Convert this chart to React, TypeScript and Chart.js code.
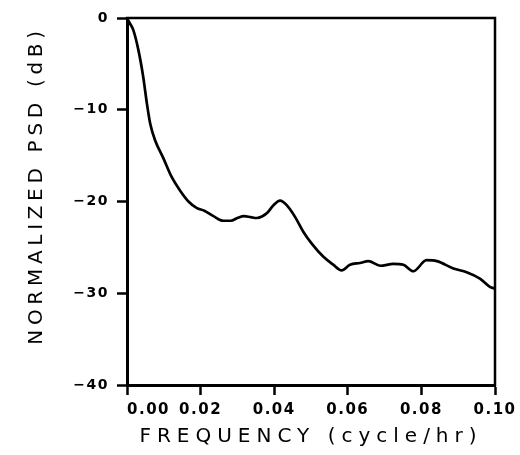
import React, { useEffect, useRef } from "react";
import { Chart, registerables } from "chart.js";

Chart.register(...registerables);

// Frequency (cycle/hr)
const freq: number[] = [
  0.0, 0.0008, 0.0017, 0.0031, 0.0044, 0.0054, 0.0063, 0.0076, 0.0099,
  0.0121, 0.0144, 0.0167, 0.0189, 0.021, 0.0235, 0.0262, 0.0282, 0.03, 0.0318,
  0.0336, 0.0352, 0.0368, 0.0382, 0.0398, 0.0416, 0.0434, 0.0457, 0.0479, 0.0502,
  0.0533, 0.0561, 0.0583, 0.0606, 0.0633, 0.0656, 0.0688, 0.0724, 0.0751, 0.0778,
  0.0814, 0.0842, 0.0887, 0.0923, 0.0959, 0.0986, 0.1,
];
// Normalized PSD (dB)
const psd: number[] = [
  0.0, -0.6, -1.3, -3.5, -6.4, -9.3, -11.5, -13.3, -15.3,
  -17.3, -18.8, -20.0, -20.7, -21.0, -21.6, -22.1, -22.1, -21.8, -21.6,
  -21.7, -21.8, -21.6, -21.2, -20.4, -19.9, -20.4, -21.7, -23.3, -24.6,
  -26.0, -26.9, -27.5, -26.9, -26.7, -26.5, -27.0, -26.8, -26.9, -27.6,
  -26.4, -26.5, -27.3, -27.7, -28.4, -29.3, -29.5,
];

const xTicks: number[] = [0, 0.02, 0.04, 0.06, 0.08, 0.1];
const xTickLabels: string[] = ["0.00", "0.02", "0.04", "0.06", "0.08", "0.10"];
const yTicks: number[] = [0, -10, -20, -30, -40];
const yTickLabels: string[] = ["0", "\u221210", "\u221220", "\u221230", "\u221240"];

const xTitle = "FREQUENCY (cycle/hr)";
const yTitle = "NORMALIZED PSD (dB)";

const FONT = "'DejaVu Sans', sans-serif";

const framePlugin = {
  id: "frame",
  beforeDraw(chart: any) {
    chart.ctx.letterSpacing = "1.5px";
  },
  afterLayout(chart: any) {
    const patchTitle = (scale: any, spacing: string, dy: number) => {
      if (!scale || scale.__titlePatched) return;
      scale.__titlePatched = true;
      const orig = scale.drawTitle.bind(scale);
      scale.drawTitle = () => {
        const ctx = scale.ctx;
        const prev = ctx.letterSpacing;
        ctx.save();
        ctx.letterSpacing = spacing;
        ctx.translate(0, dy);
        orig();
        ctx.restore();
        ctx.letterSpacing = prev;
      };
    };
    patchTitle(chart.scales.x, "6px", 0);
    patchTitle(chart.scales.y, "4.7px", -16);
    const xs = chart.scales.x;
    if (xs && !xs.__labelPatched) {
      xs.__labelPatched = true;
      const origGL = xs.getLabelItems.bind(xs);
      xs.getLabelItems = (ca: any) => {
        const items = origGL(ca);
        if (items && items.length) items[0].options.textAlign = "left";
        return items;
      };
    }
  },
  afterDraw(chart: any) {
    const { ctx, chartArea } = chart;
    ctx.save();
    ctx.strokeStyle = "#000";
    ctx.lineWidth = 2.5;
    ctx.lineCap = "square";
    ctx.beginPath();
    ctx.moveTo(chartArea.left, chartArea.top);
    ctx.lineTo(chartArea.right, chartArea.top);
    ctx.lineTo(chartArea.right, chartArea.bottom);
    ctx.stroke();
    ctx.restore();
  },
};

export default function App() {
  const ref = useRef<HTMLCanvasElement | null>(null);

  useEffect(() => {
    document.body.style.margin = "0";
    const canvas = ref.current;
    if (!canvas) return;
    const chart = new Chart(canvas, {
      type: "line",
      data: {
        datasets: [
          {
            data: freq.map((f, i) => ({ x: f, y: psd[i] })),
            borderColor: "#000",
            borderWidth: 2.7,
            pointRadius: 0,
            cubicInterpolationMode: "monotone",
            fill: false,
          },
        ],
      },
      options: {
        responsive: false,
        animation: false,
        events: [],
        layout: { padding: { top: 18, right: 25, left: 0, bottom: 0 } },
        plugins: {
          legend: { display: false },
          tooltip: { enabled: false },
        },
        scales: {
          x: {
            type: "linear",
            min: 0,
            max: 0.1,
            afterBuildTicks: (s: any) => {
              s.ticks = xTicks.map((v) => ({ value: v }));
            },
            afterFit: (s: any) => {
              s.height = 70;
            },
            ticks: {
              callback: (_v: any, i: number) => xTickLabels[i],
              color: "#000",
              font: { family: FONT, size: 15, weight: "bold" },
              padding: 6,
              maxRotation: 0,
              autoSkip: false,
            },
            grid: {
              drawOnChartArea: false,
              drawTicks: true,
              tickLength: 10,
              tickWidth: 2.5,
              tickColor: "#000",
              color: "#000",
            },
            border: { display: true, color: "#000", width: 3 },
            title: {
              display: true,
              text: xTitle,
              color: "#000",
              font: { family: FONT, size: 20, weight: "normal" },
              padding: { top: 0, bottom: 6 },
            },
          },
          y: {
            type: "linear",
            min: -40,
            max: 0,
            afterBuildTicks: (s: any) => {
              s.ticks = yTicks.map((v) => ({ value: v }));
            },
            afterFit: (s: any) => {
              s.width = 127;
            },
            ticks: {
              callback: (_v: any, i: number) => yTickLabels[i],
              color: "#000",
              font: { family: FONT, size: 14, weight: "bold" },
              padding: 8,
              autoSkip: false,
            },
            grid: {
              drawOnChartArea: false,
              drawTicks: true,
              tickLength: 10,
              tickWidth: 2.5,
              tickColor: "#000",
              color: "#000",
            },
            border: { display: true, color: "#000", width: 3 },
            title: {
              display: true,
              text: yTitle,
              color: "#000",
              font: { family: FONT, size: 20, weight: "normal" },
              padding: { top: 25, bottom: 0 },
            },
          },
        },
      },
      plugins: [framePlugin],
    } as any);
    return () => chart.destroy();
  }, []);

  return (
    <div style={{ width: 520, height: 455 }}>
      <canvas ref={ref} width={520} height={455} style={{ display: "block", width: 520, height: 455 }} />
    </div>
  );
}
